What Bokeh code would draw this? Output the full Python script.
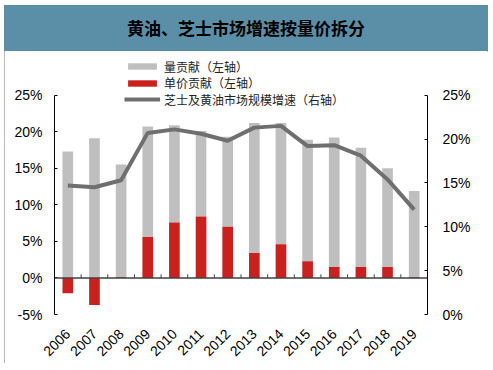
from bokeh.plotting import figure
from bokeh.layouts import column
from bokeh.models import (Range1d, LinearAxis, FixedTicker, Span, Div,
                          Legend, LegendItem, ColumnDataSource)
from bokeh.embed import file_html
from bokeh.resources import INLINE
from math import pi

# ---- data ----
years = ["2006", "2007", "2008", "2009", "2010", "2011", "2012",
         "2013", "2014", "2015", "2016", "2017", "2018", "2019"]
price_contrib = [-2.1, -3.7, 0.1, 5.6, 7.6, 8.4, 7.0, 3.4, 4.6, 2.3, 1.5, 1.5, 1.5, 0.1]
volume_contrib = [17.3, 19.1, 15.4, 15.1, 13.3, 11.7, 12.3, 17.8, 16.6, 16.6, 17.7, 16.3, 13.5, 11.8]
market_growth = [14.7, 14.5, 15.3, 20.7, 21.1, 20.6, 19.8, 21.3, 21.5, 19.2, 19.3, 18.1, 15.4, 11.95]
left_ticks = [-5, 0, 5, 10, 15, 20, 25]
right_ticks = [0, 5, 10, 15, 20, 25]

title_text = "黄油、芝士市场增速按量价拆分"
legend_labels = ["量贡献（左轴）", "单价贡献（左轴）", "芝士及黄油市场规模增速（右轴）"]

GRAY = "#BFBFBF"
RED = "#C9211E"
LINE = "#6F6F6F"
CJK = "Noto Sans CJK SC"
LAT = "Liberation Sans"

# ---- layout geometry (pixels) ----
W, H_TITLE, H_FIG = 484, 46, 312
ML, MR, MT, MB = 50, 61, 0, 47
frame_h = H_FIG - MT - MB
axis_px = 221                      # pixel height of the drawn axes (-5..25 / 0..25)
extra_px = frame_h - axis_px       # room above the axes for the legend
left_lo, left_hi = -5, 25
right_lo, right_hi = 0, 25
left_top = left_hi + extra_px * (left_hi - left_lo) / axis_px
right_top = right_hi + extra_px * (right_hi - right_lo) / axis_px

idx = list(range(len(years)))
vol_bottom = [max(pc, 0) for pc in price_contrib]
vol_top = [b + v for b, v in zip(vol_bottom, volume_contrib)]
src = ColumnDataSource(dict(x=idx, price=price_contrib, vb=vol_bottom, vt=vol_top,
                            growth=market_growth))

p = figure(width=W, height=H_FIG, x_range=Range1d(-0.5, len(years) - 0.5),
           y_range=Range1d(left_lo, left_top),
           output_backend="svg", toolbar_location=None,
           min_border_left=ML, min_border_right=MR, min_border_top=MT, min_border_bottom=MB)
p.margin = 0
p.extra_y_ranges = {"right": Range1d(right_lo, right_top)}
p.outline_line_color = None
p.xgrid.grid_line_color = None
p.ygrid.grid_line_color = None
p.background_fill_color = "white"
p.border_fill_color = "white"

r_vol = p.vbar(x="x", bottom="vb", top="vt", width=0.4, source=src,
               fill_color=GRAY, line_color=None)
r_price = p.vbar(x="x", bottom=0, top="price", width=0.4, source=src,
                 fill_color=RED, line_color=None)

# zero line and inter-category ticks
p.add_layout(Span(location=0, dimension="width", line_color="#404040", line_width=1.5))
bounds = [i + 0.5 for i in idx[:-1]]
p.segment(x0=bounds, x1=bounds, y0=[0] * len(bounds), y1=[0.5] * len(bounds),
          line_color="#404040", line_width=1)

r_line = p.line(x="x", y="growth", source=src, y_range_name="right",
                line_color=LINE, line_width=4)

# x axis (labels only)
xa = p.xaxis[0]
xa.ticker = FixedTicker(ticks=idx)
xa.major_label_overrides = {i: y for i, y in zip(idx, years)}
xa.axis_line_color = None
xa.major_tick_line_color = None
xa.minor_tick_line_color = None
xa.major_label_orientation = pi / 4
xa.major_label_text_font = LAT
xa.major_label_text_font_size = "14px"
xa.major_label_text_color = "#000000"
xa.major_label_standoff = 11

# left axis
ya = p.yaxis[0]
ya.ticker = FixedTicker(ticks=left_ticks)
ya.bounds = (left_lo, left_hi)
ya.major_label_overrides = {t: f"{t}%" for t in left_ticks}
ya.major_tick_in = 3
ya.major_tick_out = 0
ya.minor_tick_line_color = None
ya.axis_line_color = "#000000"
ya.major_tick_line_color = "#000000"
ya.major_label_text_font = LAT
ya.major_label_text_font_size = "14px"
ya.major_label_text_color = "#000000"
ya.major_label_standoff = 12

# right axis
ra = LinearAxis(y_range_name="right", ticker=FixedTicker(ticks=right_ticks),
                bounds=(right_lo, right_hi))
ra.major_label_overrides = {t: f"{t}%" for t in right_ticks}
ra.major_tick_in = 3
ra.major_tick_out = 0
ra.minor_tick_line_color = None
ra.axis_line_color = "#000000"
ra.major_tick_line_color = "#000000"
ra.major_label_text_font = LAT
ra.major_label_text_font_size = "14px"
ra.major_label_text_color = "#000000"
ra.major_label_standoff = 15
p.add_layout(ra, "right")

# one legend per entry so each row can be placed exactly
row_offsets = [8.5, 25, 41.5]      # pixels below the top of the frame
for lab, rend, off in zip(legend_labels, [r_vol, r_price, r_line], row_offsets):
    lg = Legend(items=[LegendItem(label=lab, renderers=[rend])],
                location=(70, frame_h - off - 17), orientation="vertical",
                glyph_width=36, glyph_height=8, label_height=14, spacing=0,
                padding=0, margin=0, label_standoff=4,
                background_fill_alpha=0, border_line_alpha=0,
                label_text_font=CJK, label_text_font_size="12px",
                label_text_color="#222222")
    p.add_layout(lg)

title = Div(text=title_text, width=W, height=H_TITLE, margin=0,
            styles={"background-color": "#5B8FA7", "color": "#000000",
                    "font-family": f"'{CJK}', sans-serif", "font-size": "17px",
                    "font-weight": "bold", "text-align": "center",
                    "line-height": f"{H_TITLE}px"})

layout = column(title, p, spacing=0, margin=(5, 0, 0, 4),
                styles={"outline": "1.5px solid #A6A6A6", "outline-offset": "-1px"})

open("out.html", "w").write(file_html(layout, INLINE))
